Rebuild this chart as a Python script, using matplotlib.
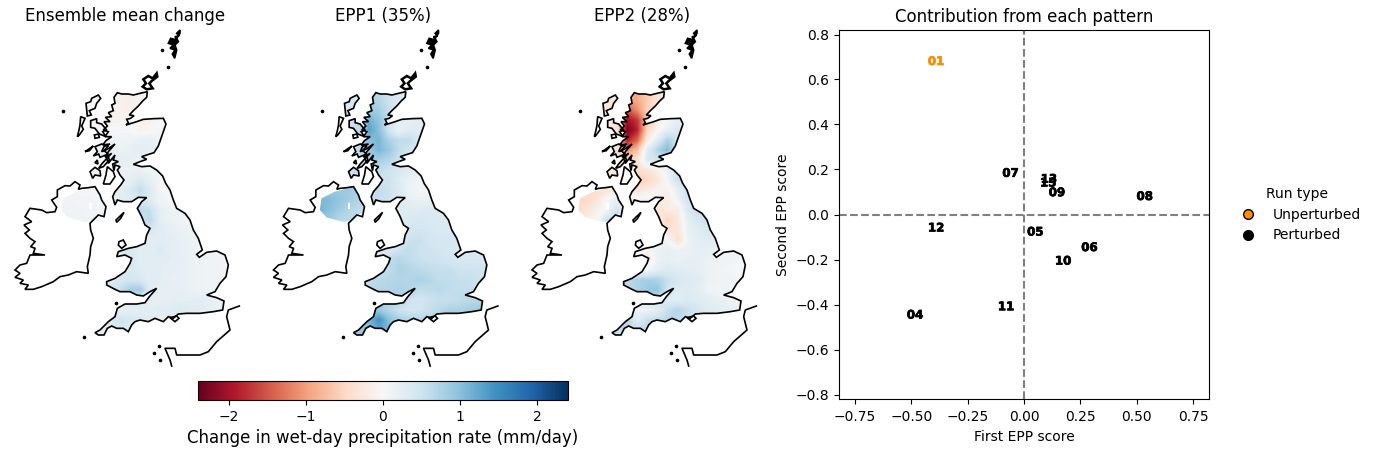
import numpy as np
import matplotlib
matplotlib.use('Agg')
import matplotlib.pyplot as plt
import matplotlib.patheffects as pe
from matplotlib.lines import Line2D
from matplotlib.path import Path
from matplotlib.patches import PathPatch, Polygon
from matplotlib.cm import ScalarMappable
from matplotlib.colors import Normalize

# fields on a coarse grid, mm/day
grid_x = [180, 210, 240, 270, 300, 330, 360, 390, 420, 450, 480, 510, 540, 570, 600, 630, 660, 690]
grid_y = [210, 240, 270, 300, 330, 360, 390, 420, 450, 480, 510, 540, 570, 600, 630, 660, 690, 720, 750, 780, 810, 840, 870, 900, 930, 960]

mean_change = [
    [0, 0, 0, 0, 0, -.05, -.1, -.1, -.08, -.05, 0, 0, 0, 0, 0, 0, 0, 0],
    [0, 0, 0, 0, 0, -.05, -.1, -.15, -.1, -.05, 0, 0, 0, 0, 0, 0, 0, 0],
    [0, 0, 0, 0, 0, -.08, -.1, -.12, -.08, 0, 0, 0, 0, 0, 0, 0, 0, 0],
    [0, 0, 0, 0, 0, -.12, -.1, -.03, -.1, -.1, -.02, 0, 0, 0, 0, 0, 0, 0],
    [0, 0, 0, 0, .05, .02, .03, .03, -.1, -.05, .05, .05, 0, 0, 0, 0, 0, 0],
    [0, 0, 0, 0, .1, .1, .1, .12, .18, .2, .1, .05, 0, 0, 0, 0, 0, 0],
    [0, 0, 0, 0, .2, .2, .15, .18, .25, .2, .1, .05, 0, 0, 0, 0, 0, 0],
    [0, 0, 0, 0, .25, .25, .25, .2, .15, .1, .05, 0, 0, 0, 0, 0, 0, 0],
    [0, 0, 0, 0, .1, .12, .15, .15, .15, .1, .05, .03, 0, 0, 0, 0, 0, 0],
    [0, 0, 0, 0, .1, .12, .15, .22, .35, .2, .05, 0, 0, 0, 0, 0, 0, 0],
    [.06, .06, .05, .05, .05, .2, .25, .35, .6, .35, .05, -.02, 0, 0, 0, 0, 0, 0],
    [.08, .08, .06, .06, .05, .2, .25, .3, .4, .3, .1, .05, .05, 0, 0, 0, 0, 0],
    [.1, .1, .08, .06, .06, .1, .15, .3, .65, .55, .2, .15, .1, .1, 0, 0, 0, 0],
    [.1, .1, .08, .08, .08, .1, .15, .3, .45, .65, .25, .15, .12, .1, .1, 0, 0, 0],
    [0, 0, 0, 0, 0, 0, .15, .25, .3, .4, .3, .2, .15, .12, .1, 0, 0, 0],
    [0, 0, 0, 0, 0, 0, .2, .25, .28, .25, .25, .25, .2, .15, .12, .1, 0, 0],
    [0, 0, 0, 0, 0, .3, .3, .4, .25, .25, .35, .25, .2, .15, .12, .1, .08, .08],
    [0, 0, 0, 0, 0, .35, .35, .45, .25, .25, .25, .25, .2, .15, .12, .1, .08, .06],
    [0, 0, 0, 0, .25, .25, .3, .35, .3, .25, .25, .22, .2, .15, .12, .1, .08, .06],
    [0, 0, 0, 0, .3, .3, .4, .45, .4, .25, .25, .2, .2, .15, .12, .1, .08, .06],
    [0, 0, 0, 0, .3, .4, .55, .8, .85, .3, .2, .2, .2, .15, .12, .1, .08, .06],
    [0, 0, 0, 0, .3, .3, .3, .35, .3, .2, .2, .2, .22, .25, .25, .2, .15, .15],
    [0, 0, 0, 0, .3, .25, .2, .2, .25, .25, .3, .3, .35, .3, .3, .2, .15, .1],
    [0, 0, 0, .3, .3, .35, .5, .4, .35, .25, .2, .25, .3, 0, 0, 0, 0, 0],
    [0, 0, 0, .25, .25, .3, .35, .3, .25, 0, 0, 0, 0, 0, 0, 0, 0, 0],
    [0, 0, 0, .2, .2, .2, .2, 0, 0, 0, 0, 0, 0, 0, 0, 0, 0, 0],
]

epp1 = [
    [0, 0, 0, 0, 0, .7, .6, .5, .4, .3, 0, 0, 0, 0, 0, 0, 0, 0],
    [0, 0, 0, .4, .4, .8, .7, .5, .35, .3, 0, 0, 0, 0, 0, 0, 0, 0],
    [0, 0, 0, .4, .5, .9, .8, .55, .4, .3, 0, 0, 0, 0, 0, 0, 0, 0],
    [0, 0, 0, .5, .6, 1.15, .95, .55, .25, .2, .25, 0, 0, 0, 0, 0, 0, 0],
    [0, 0, 0, .5, .6, 1.3, 1.0, .45, .15, .3, .3, .2, 0, 0, 0, 0, 0, 0],
    [0, 0, 0, .5, .6, 1.0, 1.1, .75, .6, .6, .4, .3, 0, 0, 0, 0, 0, 0],
    [0, 0, 0, .5, .6, .9, 1.1, .9, .6, .45, .3, .2, 0, 0, 0, 0, 0, 0],
    [0, 0, 0, .5, .6, .8, .8, .7, .5, .4, .3, .2, 0, 0, 0, 0, 0, 0],
    [0, 0, 0, .5, .6, .6, .6, .5, .4, .3, .2, .2, 0, 0, 0, 0, 0, 0],
    [0, 0, 0, .5, .5, .5, .45, .5, .3, .15, .1, .1, 0, 0, 0, 0, 0, 0],
    [.9, .9, .9, .85, .8, .6, .6, .5, .35, .1, .05, .05, .1, 0, 0, 0, 0, 0],
    [1.1, 1.05, .95, .85, .7, .6, .55, .5, .35, .2, .15, .2, .25, 0, 0, 0, 0, 0],
    [1.15, 1.0, .85, .7, .6, .5, .4, .3, .3, .3, .3, .35, .35, .3, 0, 0, 0, 0],
    [1.0, .9, .7, .65, .6, .5, .4, .3, .3, .35, .4, .35, .35, .35, .3, 0, 0, 0],
    [0, 0, 0, 0, 0, 0, .3, .35, .4, .4, .45, .4, .35, .35, .35, .3, 0, 0],
    [0, 0, 0, 0, 0, 0, .3, .3, .4, .5, .55, .45, .4, .4, .4, .35, 0, 0],
    [0, 0, 0, 0, 0, .35, .35, .4, .5, .6, .5, .5, .45, .4, .35, .35, .35, .35],
    [0, 0, 0, 0, 0, .4, .4, .6, .7, .6, .55, .5, .5, .45, .4, .4, .4, .4],
    [0, 0, 0, 0, .5, .5, .5, .6, .75, .7, .65, .6, .55, .55, .5, .5, .5, .45],
    [0, 0, 0, 0, .6, .6, .65, .7, .7, .7, .75, .7, .6, .6, .55, .55, .5, .45],
    [0, 0, 0, 0, .65, .65, .7, .7, .75, .7, .6, .6, .65, .6, .6, .55, .55, .5],
    [0, 0, 0, 0, .7, .7, .7, .7, .75, .5, .45, .5, .55, .55, .6, .65, .7, .75],
    [0, 0, 0, 0, .9, .9, .9, .7, .5, .45, .45, .55, .65, .75, .75, .8, .85, .8],
    [0, 0, 0, .9, .9, 1.1, 1.45, 1.0, .8, .7, .7, .7, .75, .7, .7, 0, 0, 0],
    [0, 0, 0, .8, .9, 1.0, 1.25, 1.1, .9, 0, 0, 0, 0, 0, 0, 0, 0, 0],
    [0, 0, 0, .8, .9, .9, .9, 0, 0, 0, 0, 0, 0, 0, 0, 0, 0, 0],
]

epp2 = [
    [0, 0, 0, 0, 0, -.9, -.9, -.6, -.35, -.25, 0, 0, 0, 0, 0, 0, 0, 0],
    [0, 0, 0, -.3, -.3, -1.0, -.9, -.6, -.35, -.25, 0, 0, 0, 0, 0, 0, 0, 0],
    [0, 0, 0, -.3, -.3, -1.5, -1.1, -.55, -.3, -.1, 0, 0, 0, 0, 0, 0, 0, 0],
    [0, 0, 0, -.2, -.3, -2.0, -1.7, -.6, -.2, .05, .2, .3, 0, 0, 0, 0, 0, 0],
    [0, 0, 0, -.2, -.3, -2.3, -1.85, -.5, -.05, .2, .35, .3, 0, 0, 0, 0, 0, 0],
    [0, 0, 0, -.2, -.3, -1.9, -1.4, -.2, .3, .75, .5, .3, 0, 0, 0, 0, 0, 0],
    [0, 0, 0, -.2, -.3, -1.1, -.7, .3, .7, 1.05, .4, .2, 0, 0, 0, 0, 0, 0],
    [0, 0, 0, -.2, -.3, -.5, -.3, .35, .45, .3, .2, .2, 0, 0, 0, 0, 0, 0],
    [0, 0, 0, -.2, -.3, -.4, -.45, -.3, -.1, .2, .4, .5, 0, 0, 0, 0, 0, 0],
    [0, 0, 0, -.2, -.3, -.4, -.65, -.5, -.3, .05, .5, .55, 0, 0, 0, 0, 0, 0],
    [-.45, -.45, -.4, -.3, -.15, -.2, -.3, -.2, -.05, -.1, .2, .5, .5, 0, 0, 0, 0, 0],
    [-.55, -.45, -.3, .05, .2, .1, .1, .1, -.1, -.2, .1, .45, .45, 0, 0, 0, 0, 0],
    [-.5, -.3, -.1, .05, .5, .1, .1, .1, -.35, -.2, -.2, .35, .6, .5, 0, 0, 0, 0],
    [-.2, -.15, -.05, .55, .7, .3, .1, .1, -.1, -.55, -.25, .2, .4, .55, .3, 0, 0, 0],
    [0, 0, 0, 0, 0, 0, .1, .1, .1, -.3, -.3, .15, .3, .35, .35, .2, 0, 0],
    [0, 0, 0, 0, 0, 0, .1, .1, .1, .05, -.4, .1, .25, .3, .3, .2, 0, 0],
    [0, 0, 0, 0, 0, .1, .1, -.05, .15, .2, .15, .15, .2, .2, .15, .1, .1, .1],
    [0, 0, 0, 0, 0, .05, -.1, -.25, .15, .2, .15, .2, .2, .15, .1, .1, .05, .05],
    [0, 0, 0, 0, .3, .2, .1, .05, .25, .35, .3, .25, .2, .15, .1, .05, .05, .05],
    [0, 0, 0, 0, .65, .65, .75, .8, .75, .55, .4, .35, .3, .15, .1, .1, .05, .05],
    [0, 0, 0, 0, .6, .6, .75, .9, .95, .5, .3, .3, .25, .1, .05, .1, .1, .1],
    [0, 0, 0, 0, .5, .5, .5, .5, .5, .3, .25, .35, .3, .25, .2, .15, .1, .1],
    [0, 0, 0, 0, .5, .2, .1, .1, .25, .55, .7, .55, .4, .3, .3, .2, .15, .1],
    [0, 0, 0, .5, .6, .7, .25, .55, .6, .65, .6, .5, .4, .3, .3, 0, 0, 0],
    [0, 0, 0, .5, .55, .6, .65, .65, .5, 0, 0, 0, 0, 0, 0, 0, 0, 0],
    [0, 0, 0, .5, .5, .5, .5, 0, 0, 0, 0, 0, 0, 0, 0, 0, 0, 0],
]

# coastlines in map units
gb_coast = [(352, 218), (365, 222), (385, 222), (400, 225), (420, 220), (442, 215), (440, 232), (428, 243), (415, 258),
            (400, 272), (388, 285), (402, 287), (392, 295), (380, 298), (385, 308), (378, 315), (410, 305), (430, 298),
            (460, 296), (490, 295), (498, 312), (490, 335), (483, 355), (475, 378), (462, 398), (440, 405), (425, 410),
            (440, 418), (420, 425), (400, 433), (425, 440), (450, 438), (470, 450), (488, 468), (497, 490), (510, 510),
            (520, 540), (530, 565), (555, 580), (570, 600), (580, 630), (595, 655), (607, 690), (590, 703), (598, 712),
            (620, 697), (650, 693), (675, 705), (685, 735), (678, 770), (660, 790), (645, 815), (620, 825), (650, 833),
            (672, 843), (668, 870), (640, 875), (600, 880), (560, 880), (535, 882), (520, 895), (505, 890), (490, 905),
            (465, 895), (445, 905), (420, 900), (405, 905), (395, 915), (385, 935), (370, 925), (350, 925), (335, 918),
            (322, 925), (312, 945), (295, 945), (285, 938), (300, 930), (325, 905), (345, 890), (352, 865), (375, 852),
            (410, 852), (435, 848), (448, 830), (470, 805), (450, 815), (430, 828), (410, 825), (390, 815), (360, 815),
            (345, 808), (320, 795), (320, 785), (345, 775), (375, 755), (390, 730), (395, 715), (375, 705), (350, 710),
            (355, 695), (385, 685), (410, 680), (435, 670), (440, 645), (450, 625), (435, 615), (425, 590), (412, 565),
            (425, 545), (440, 533), (415, 532), (395, 545), (370, 545), (352, 540), (345, 555), (338, 530), (345, 515),
            (362, 495), (372, 480), (360, 465), (352, 450), (360, 440), (345, 435), (342, 452), (338, 432), (355, 425),
            (340, 420), (345, 405), (325, 430), (320, 415), (335, 400), (315, 412), (325, 395), (345, 372), (322, 388),
            (305, 395), (312, 380), (330, 372), (308, 375), (318, 362), (335, 350), (315, 350), (325, 335), (310, 330),
            (322, 318), (312, 305), (330, 305), (316, 292), (335, 290), (325, 278), (340, 272), (335, 255), (345, 250),
            (342, 232), (352, 218)]
ireland_coast = [(225, 485), (240, 495), (235, 508), (245, 505), (265, 503), (285, 500), (300, 525), (305, 540), (318, 560),
                 (312, 590), (295, 585), (270, 610), (272, 630), (280, 655), (272, 680), (270, 705), (262, 740), (265, 760),
                 (230, 755), (205, 765), (180, 770), (160, 785), (125, 800), (100, 808), (75, 808), (85, 795), (60, 790),
                 (70, 780), (45, 772), (60, 760), (45, 750), (60, 735), (80, 730), (90, 705), (135, 705), (100, 700),
                 (105, 685), (92, 680), (105, 665), (90, 655), (75, 640), (88, 630), (72, 615), (95, 605), (75, 590),
                 (90, 565), (125, 570), (140, 578), (165, 575), (170, 562), (155, 540), (172, 530), (172, 510), (195, 497),
                 (210, 498), (225, 485)]
ni_field = [(229, 515), (250, 510), (270, 500), (290, 505), (300, 525), (305, 540), (318, 560), (315, 578), (295, 585),
            (280, 603), (254, 606), (204, 592), (184, 570), (189, 535)]
lough_neagh = [(267, 550), (275, 550), (275, 568), (267, 568)]
lewis = [(258, 250), (272, 245), (275, 235), (295, 225), (302, 235), (290, 250), (285, 265), (268, 272), (274, 285), (262, 288)]
uist = [(242, 290), (255, 295), (245, 318), (250, 328), (238, 345), (232, 350), (237, 330), (240, 315)]
skye = [(272, 302), (290, 296), (290, 308), (305, 312), (320, 330), (308, 335), (318, 350), (298, 342), (285, 325), (272, 322)]
rum = [(283, 345), (295, 342), (298, 352), (285, 355)]
mull = [(285, 380), (305, 372), (325, 378), (312, 392), (325, 402), (300, 412), (296, 402), (280, 408), (292, 395)]
islay = [(270, 455), (285, 442), (300, 452), (302, 468), (285, 465), (278, 475)]
jura = [(325, 410), (305, 432), (296, 445), (310, 440), (328, 420)]
kintyre = [(322, 440), (340, 455), (345, 470), (330, 492), (310, 492), (318, 465)]
tiree = [(255, 395), (280, 378), (268, 392)]
colonsay = [(285, 428), (292, 420), (294, 432)]
man = [(372, 577), (362, 595), (350, 607), (348, 600)]
anglesey = [(357, 665), (370, 660), (378, 675), (365, 685), (355, 675)]
wight = [(510, 893), (530, 888), (537, 895), (525, 905)]
orkney = [(430, 178), (445, 168), (458, 175), (470, 160), (472, 170), (455, 183), (448, 190), (458, 205), (440, 208), (428, 200), (438, 190)]
shetland = [(540, 30), (530, 40), (537, 48), (525, 50), (530, 60), (512, 55), (505, 70), (520, 75), (510, 85), (525, 90),
            (517, 102), (524, 115), (530, 90), (525, 75), (535, 65), (530, 55), (540, 40)]
france = [(718, 858), (685, 870), (680, 890), (690, 930), (650, 965), (625, 995), (600, 1005), (530, 1005), (525, 985),
          (495, 985), (510, 1020), (515, 1038)]
speck_x = [487, 505, 190, 252, 347, 462, 480, 478]
speck_y = [90, 141, 273, 952, 850, 1000, 1020, 978]

titles = ['Ensemble mean change', 'EPP1 (35%)', 'EPP2 (28%)']
map_left = [0, 258.5, 517]

# scatter of the two scores
members = ['01', '04', '05', '06', '07', '08', '09', '10', '11', '12', '13', '15']
first_score = [-.39, -.483, .05, .29, -.06, .535, .146, .173, -.08, -.39, .11, .107]
second_score = [.68, -.447, -.078, -.147, .183, .08, .097, -.207, -.41, -.06, .157, .14]
member_color = ['darkorange'] + ['black'] * 11

W, H = 1376.0, 454.0
fig = plt.figure(figsize=(W / 100, H / 100), dpi=100)


def px_axes(x0, y0, x1, y1):
    return fig.add_axes([x0 / W, 1 - y1 / H, (x1 - x0) / W, (y1 - y0) / H])


norm = Normalize(-2.4, 2.4)
clip_polys = [gb_coast, ni_field, lewis, skye, mull, jura, islay]
outlines = [gb_coast, ireland_coast, lewis, uist, skye, rum, mull, islay, jura, kintyre, tiree, colonsay, man, anglesey, wight]

for field, title, left in zip([mean_change, epp1, epp2], titles, map_left):
    ax = px_axes(left, 20, left + 250, 370)
    im = ax.imshow(field, cmap='RdBu', norm=norm, interpolation='bilinear', aspect='auto',
                   extent=(grid_x[0] - 15, grid_x[-1] + 15, grid_y[-1] + 15, grid_y[0] - 15))
    verts, codes = [], []
    for poly in clip_polys:
        verts += poly + [poly[0]]
        codes += [Path.MOVETO] + [Path.LINETO] * (len(poly) - 1) + [Path.CLOSEPOLY]
    im.set_clip_path(PathPatch(Path(verts, codes), transform=ax.transData))
    ax.add_patch(Polygon(lough_neagh, fc='white', ec='none'))
    for poly in outlines:
        ax.add_patch(Polygon(poly, fc='none', ec='black', lw=1.2))
    ax.add_patch(Polygon(orkney, fc='none', ec='black', lw=1.8))
    ax.add_patch(Polygon(shetland, fc='black', ec='black', lw=1.2))
    ax.plot([p[0] for p in france], [p[1] for p in france], color='black', lw=1.2)
    ax.plot(speck_x, speck_y, 'o', color='black', ms=1.6)
    ax.set_xlim(0, 750)
    ax.set_ylim(1050, 0)
    ax.axis('off')
    ax.set_title(title, fontsize=12, y=0.997, pad=0)

cax = px_axes(198, 381, 568, 400)
cb = fig.colorbar(ScalarMappable(norm=norm, cmap='RdBu'), cax=cax, orientation='horizontal')
cb.set_ticks([-2, -1, 0, 1, 2])
cb.set_label('Change in wet-day precipitation rate (mm/day)', fontsize=12)

ax = px_axes(839, 30, 1209, 399)
for name, x, y, c in zip(members, first_score, second_score, member_color):
    t = ax.text(x, y, name, color=c, fontsize=8.5, fontweight='bold', ha='center', va='center')
    t.set_path_effects([pe.withStroke(linewidth=0.5, foreground=c)])
ax.axhline(0, color='gray', ls='--', lw=1.5)
ax.axvline(0, color='gray', ls='--', lw=1.5)
ax.set_xlim(-.82, .82)
ax.set_ylim(-.82, .82)
ax.tick_params(axis='x', pad=4.5)
ax.set_xlabel('First EPP score', labelpad=4.5)
ax.set_ylabel('Second EPP score')
ax.set_title('Contribution from each pattern', fontsize=12)
handles = [Line2D([], [], ls='none', marker='o', mfc='darkorange', mec='black', ms=7),
           Line2D([], [], ls='none', marker='o', mfc='black', mec='black', ms=7)]
ax.legend(handles, ['Unperturbed', 'Perturbed'], title='Run type', frameon=False,
          loc='center left', bbox_to_anchor=(1.033, .5))

plt.savefig('out.png', dpi=100)
